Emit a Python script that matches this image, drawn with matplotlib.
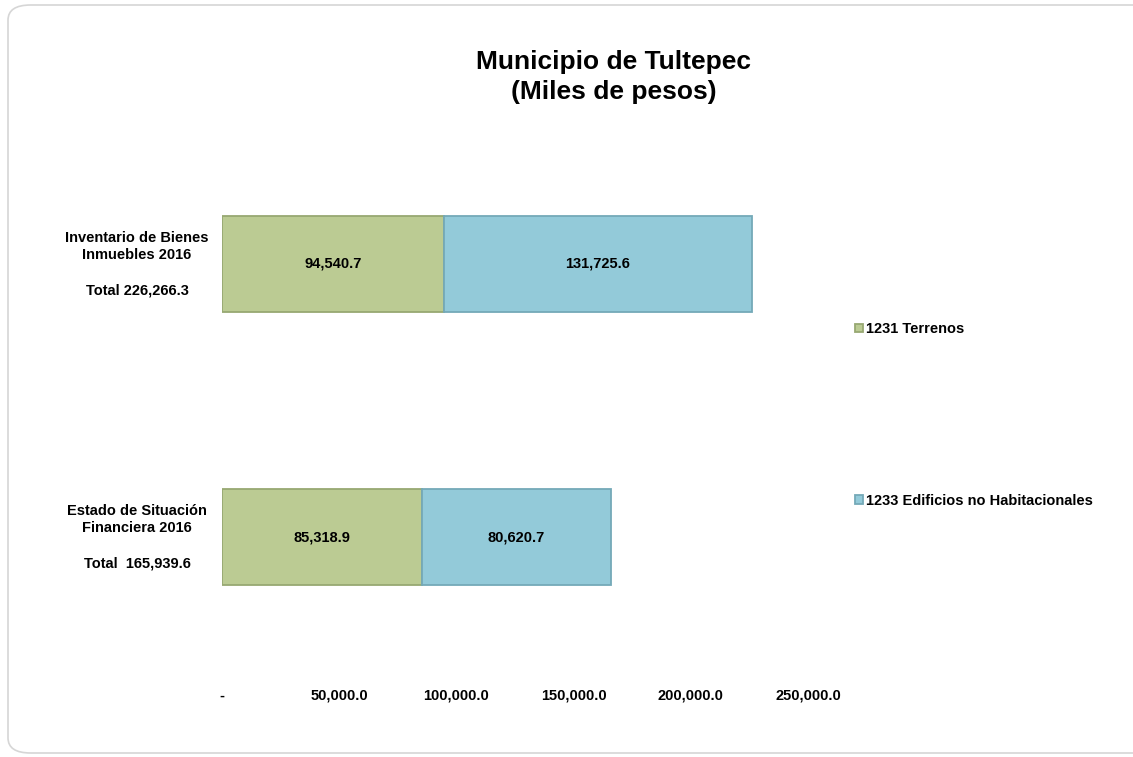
import matplotlib
matplotlib.use("Agg")
from matplotlib import pyplot as plt
from matplotlib import font_manager
from matplotlib.patches import FancyBboxPatch
import numpy as np

# data
categories = ["Inventario de Bienes\nInmuebles 2016\n\nTotal 226,266.3",
              "Estado de Situación\nFinanciera 2016\n\nTotal  165,939.6"]
series_names = ["1231 Terrenos", "1233 Edificios no Habitacionales"]
terrenos = [94540.7, 85318.9]
edificios = [131725.6, 80620.7]
x_ticks = [0, 50000, 100000, 150000, 200000, 250000]
x_tick_labels = ["-", "50,000.0", "100,000.0", "150,000.0", "200,000.0", "250,000.0"]

names = {f.name for f in font_manager.fontManager.ttflist}
font = "Liberation Sans Narrow" if "Liberation Sans Narrow" in names else "Liberation Sans"
plt.rcParams["font.family"] = [font, "DejaVu Sans"]
plt.rcParams["font.weight"] = "bold"

green = "#BBCB93"
blue = "#93CAD9"
green_edge = "#97A872"
blue_edge = "#74A9B8"

fig = plt.figure(figsize=(11.33, 7.57), dpi=100)
fig.patch.set_facecolor("white")

# rounded frame around the chart (right side runs off the image)
frame = FancyBboxPatch((8 / 1133, 4 / 757), 1160 / 1133, 748 / 757,
                       boxstyle="round,pad=0,rounding_size=0.02",
                       transform=fig.transFigure, facecolor="none",
                       edgecolor="#D6D6D6", linewidth=1.2, clip_on=False)
fig.patches.append(frame)

ax = fig.add_axes([222 / 1133, 1 - 673.5 / 757, 586 / 1133, 546 / 757])
y = np.arange(len(categories))
h = 0.35

b1 = ax.barh(y, terrenos, height=h, color=green, edgecolor=green_edge,
             linewidth=1.3, label=series_names[0])
b2 = ax.barh(y, edificios, left=terrenos, height=h, color=blue,
             edgecolor=blue_edge, linewidth=1.3, label=series_names[1])

for lefts, vals in [([0, 0], terrenos), (terrenos, edificios)]:
    for yi, l, v in zip(y, lefts, vals):
        ax.text(l + v / 2, yi, f"{v:,.1f}", ha="center", va="center",
                fontsize=10.5, fontweight="bold", color="black")

ax.set_xlim(0, 250000)
ax.set_ylim(len(categories) - 0.5, -0.5)
ax.set_xticks(x_ticks)
ax.set_xticklabels(x_tick_labels, fontsize=10.5, fontweight="bold")
ax.tick_params(axis="x", length=0, pad=11)
ax.set_yticks([])
for s in ax.spines.values():
    s.set_visible(False)

for yi, lab in zip(y, categories):
    ax.text(-0.145, yi, lab, transform=ax.get_yaxis_transform(),
            ha="center", va="center", multialignment="center",
            fontsize=10.5, fontweight="bold", linespacing=1.32)

fig.text(614 / 1133, 1 - 77 / 757, "Municipio de Tultepec\n(Miles de pesos)",
         ha="center", va="center", fontsize=19, fontweight="bold",
         linespacing=1.3)

leg = ax.legend(loc="upper left", bbox_to_anchor=(848 / 1133, 1 - 315 / 757),
                bbox_transform=fig.transFigure, frameon=False,
                fontsize=10.5, handlelength=0.5, handleheight=0.5,
                handletextpad=0.2, labelspacing=10.8, borderpad=0)
for t in leg.get_texts():
    t.set_fontweight("bold")

fig.savefig("out.png", dpi=100, facecolor="white")
